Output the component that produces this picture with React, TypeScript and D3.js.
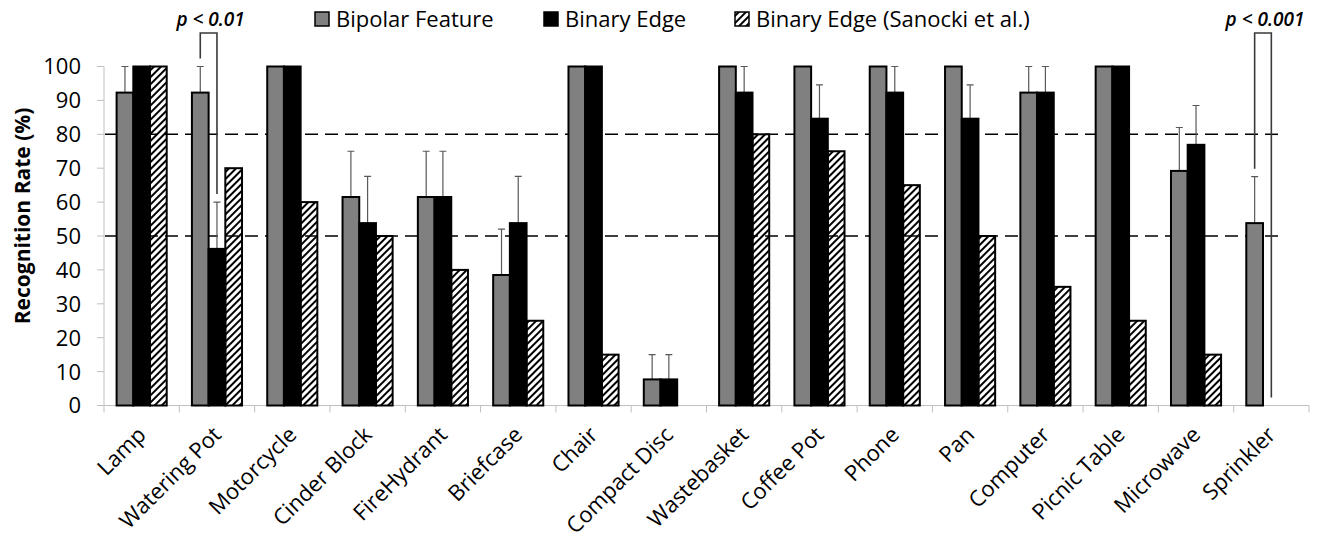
import React, { useEffect, useRef } from "react";
import * as d3 from "d3";

const categories = [
  "Lamp", "Watering Pot", "Motorcycle", "Cinder Block", "FireHydrant", "Briefcase",
  "Chair", "Compact Disc", "Wastebasket", "Coffee Pot", "Phone", "Pan",
  "Computer", "Picnic Table", "Microwave", "Sprinkler",
];

const seriesNames = ["Bipolar Feature", "Binary Edge", "Binary Edge (Sanocki et al.)"];

const bipolar = [92.3, 92.3, 100, 61.5, 61.5, 38.5, 100, 7.7, 100, 100, 100, 100, 92.3, 100, 69.2, 53.8];
const bipolarErr = [7.7, 7.7, 0, 13.5, 13.5, 13.5, 0, 7.3, 0, 0, 0, 0, 7.7, 0, 12.8, 13.7];

const binary = [100, 46.2, 100, 53.8, 61.5, 53.8, 100, 7.7, 92.3, 84.6, 92.3, 84.6, 92.3, 100, 76.9, 0];
const binaryErr = [0, 13.8, 0, 13.8, 13.5, 13.8, 0, 7.3, 7.7, 10, 7.7, 10, 7.7, 0, 11.6, 0];

const sanocki = [100, 70, 60, 50, 40, 25, 15, 0, 80, 75, 65, 50, 35, 25, 15, 0];

const yTicks = [0, 10, 20, 30, 40, 50, 60, 70, 80, 90, 100];
const refLines = [80, 50];

const significance = [
  { category: "Watering Pot", label: "p < 0.01" },
  { category: "Sprinkler", label: "p < 0.001" },
];

const W = 1320;
const H = 543;
const FONT = "'Open Sans', Lato, sans-serif";

export default function App() {
  const ref = useRef<SVGSVGElement>(null);

  useEffect(() => {
    const svg = d3.select(ref.current);
    svg.selectAll("*").remove();

    const left = 104;
    const right = 1309;
    const top = 66.5;
    const bottom = 405.5;

    const x = d3.scaleBand().domain(categories).range([left, right]).paddingInner(0).paddingOuter(0);
    const xs = d3.scaleBand().domain(seriesNames).range([0, x.bandwidth()]).paddingInner(0).paddingOuter(0.755);
    const y = d3.scaleLinear().domain([0, 100]).range([bottom, top]);

    // hatch pattern
    const defs = svg.append("defs");
    defs.append("pattern")
      .attr("id", "hatch")
      .attr("patternUnits", "userSpaceOnUse")
      .attr("width", 5)
      .attr("height", 5)
      .attr("patternTransform", "rotate(45)")
      .append("rect")
      .attr("width", 2)
      .attr("height", 5)
      .attr("fill", "#000");

    // axes
    svg.append("line")
      .attr("x1", left).attr("x2", left)
      .attr("y1", top).attr("y2", bottom)
      .attr("stroke", "#c0c0c0").attr("stroke-width", 1);
    svg.append("line")
      .attr("x1", left - 7).attr("x2", right)
      .attr("y1", bottom).attr("y2", bottom)
      .attr("stroke", "#c0c0c0").attr("stroke-width", 1);

    svg.selectAll(".ytick")
      .data(yTicks)
      .enter()
      .append("line")
      .attr("x1", left - 7).attr("x2", left)
      .attr("y1", (d) => y(d)).attr("y2", (d) => y(d))
      .attr("stroke", "#c0c0c0");

    svg.selectAll(".ylab")
      .data(yTicks)
      .enter()
      .append("text")
      .attr("x", left - 23)
      .attr("y", (d) => y(d))
      .attr("dy", "0.36em")
      .attr("text-anchor", "end")
      .attr("font-family", FONT)
      .attr("font-size", 22)
      .attr("fill", "#000")
      .text((d) => d);

    const bounds = categories.map((c) => x(c)!).concat([right]);
    svg.selectAll(".xtick")
      .data(bounds)
      .enter()
      .append("line")
      .attr("x1", (d) => d).attr("x2", (d) => d)
      .attr("y1", bottom).attr("y2", bottom + 7)
      .attr("stroke", "#c0c0c0");

    // reference dashed lines
    const lastCenter = x(categories[categories.length - 1])! + x.bandwidth() / 2;
    svg.selectAll(".ref")
      .data(refLines)
      .enter()
      .append("line")
      .attr("x1", left + 1)
      .attr("x2", lastCenter + 11)
      .attr("y1", (d) => y(d)).attr("y2", (d) => y(d))
      .attr("stroke", "#000")
      .attr("stroke-width", 1.5)
      .attr("stroke-dasharray", "13,7");

    const series = [
      { name: seriesNames[0], values: bipolar, err: bipolarErr, fill: "#808080" },
      { name: seriesNames[1], values: binary, err: binaryErr, fill: "#000000" },
      { name: seriesNames[2], values: sanocki, err: null as number[] | null, fill: "url(#hatch)" },
    ];

    series.forEach((s) => {
      const items = categories.map((c, i) => ({ c, v: s.values[i], e: s.err ? s.err[i] : 0 }));
      const bx = (d: { c: string }) => x(d.c)! + xs(s.name)!;

      // error bars
      svg.append("g")
        .selectAll("path")
        .data(items.filter((d) => d.e > 0))
        .enter()
        .append("path")
        .attr("d", (d) => {
          const cx = bx(d) + xs.bandwidth() / 2;
          const y0 = y(d.v);
          const y1 = y(d.v + d.e);
          return `M${cx},${y0}V${y1}M${cx - 3.5},${y1}H${cx + 3.5}`;
        })
        .attr("stroke", "#595959")
        .attr("stroke-width", 1.2)
        .attr("fill", "none");

      svg.append("g")
        .selectAll("rect")
        .data(items.filter((d) => d.v > 0))
        .enter()
        .append("rect")
        .attr("x", bx)
        .attr("y", (d) => y(d.v))
        .attr("width", xs.bandwidth())
        .attr("height", (d) => y(0) - y(d.v))
        .attr("fill", s.fill)
        .attr("stroke", "#000")
        .attr("stroke-width", 2);
    });

    // significance brackets
    significance.forEach((sg) => {
      const i = categories.indexOf(sg.category);
      const lx = x(sg.category)! + xs(seriesNames[0])! + xs.bandwidth() / 2;
      const rx = x(sg.category)! + xs(seriesNames[1])! + xs.bandwidth() / 2;
      const ly = y(bipolar[i] + bipolarErr[i]) - 8;
      const ry = y(binary[i] + binaryErr[i]) - 8;
      const by = 33;
      svg.append("path")
        .attr("d", `M${lx},${ly}V${by}H${rx}V${ry}`)
        .attr("fill", "none")
        .attr("stroke", "#3a3a3a")
        .attr("stroke-width", 1.6);
      svg.append("text")
        .attr("x", (lx + rx) / 2 + 2)
        .attr("y", 26)
        .attr("text-anchor", "middle")
        .attr("font-family", FONT)
        .attr("font-size", 19)
        .attr("font-weight", 600)
        .attr("font-style", "italic")
        .text(sg.label);
    });

    // x labels
    svg.selectAll(".xlab")
      .data(categories)
      .enter()
      .append("text")
      .attr("transform", (d) => `translate(${x(d)! + x.bandwidth() / 2},${bottom + 25}) rotate(-45)`)
      .attr("dy", "0.36em")
      .attr("text-anchor", "end")
      .attr("font-family", FONT)
      .attr("font-size", 22)
      .text((d) => d);

    // y title
    svg.append("text")
      .attr("transform", `translate(30,216) rotate(-90)`)
      .attr("text-anchor", "middle")
      .attr("font-family", FONT)
      .attr("font-size", 21)
      .attr("font-weight", "bold")
      .text("Recognition Rate (%)");

    // legend
    const legendX = [315, 544, 735];
    const legendFill = ["#808080", "#000000", "url(#hatch)"];
    const lg = svg.append("g");
    seriesNames.forEach((n, i) => {
      lg.append("rect")
        .attr("x", legendX[i]).attr("y", 12)
        .attr("width", 14).attr("height", 14)
        .attr("fill", legendFill[i])
        .attr("stroke", "#000")
        .attr("stroke-width", 1.5);
      lg.append("text")
        .attr("x", legendX[i] + 21)
        .attr("y", 27)
        .attr("font-family", FONT)
        .attr("font-size", 22)
        .text(n);
    });
  }, []);

  return (
    <div style={{ position: "absolute", left: 0, top: 0, background: "#fff" }}>
      <svg ref={ref} width={W} height={H} style={{ display: "block" }} />
    </div>
  );
}
